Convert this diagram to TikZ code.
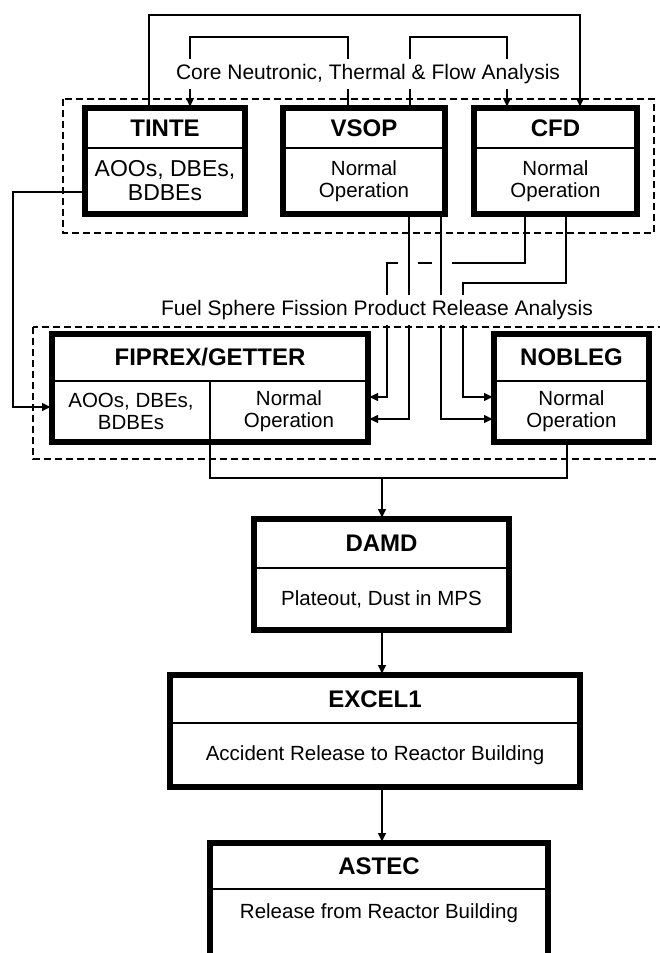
\documentclass[tikz,border=0pt]{standalone}
\usepackage{fontspec}
\setmainfont{Liberation Sans}
\usetikzlibrary{arrows.meta}

\tikzset{
  hd/.style={draw, line width=1.6pt, inner sep=0pt, outer sep=0pt,
    font=\bfseries\fontsize{24}{26}\selectfont},
  bd/.style={draw, line width=1.6pt, inner sep=0pt, outer sep=0pt, align=center,
    font=\fontsize{20.5}{22}\selectfont},
  frame/.style={line width=5.5pt},
  conn/.style={line width=2.2pt},
  link/.style={conn, -{Latex[length=10pt,width=9pt]}},
  grp/.style={line width=1.4pt, dash pattern=on 7pt off 4pt},
  ttl/.style={fill=white, inner xsep=3pt, inner ysep=5pt,
    font=\fontsize{21}{24}\selectfont}
}

\begin{document}
\begin{tikzpicture}[x=1pt,y=-1pt]
  \useasboundingbox (0,0) rectangle (660,953);
  \clip (0,0) rectangle (660,953);
  \draw[grp] (63,99) rectangle (654,233);
  \draw[grp] (33,327) rectangle (690,459);

  \node[hd, minimum width=160pt, minimum height=40pt] (tinte) at (165,128) {TINTE};
  \node[bd, minimum width=160pt, minimum height=66pt, font=\fontsize{23}{24}\selectfont] (tinteb) at (165,181) {AOOs, DBEs,\\BDBEs};
  \node[hd, minimum width=162pt, minimum height=40pt] (vsop) at (364,128) {VSOP};
  \node[bd, minimum width=162pt, minimum height=66pt] (vsopb) at (364,181) {Normal\\Operation};
  \node[hd, minimum width=163pt, minimum height=40pt] (cfd) at (555.5,128) {CFD};
  \node[bd, minimum width=163pt, minimum height=66pt] (cfdb) at (555.5,181) {Normal\\Operation};

  \node[hd, minimum width=316pt, minimum height=47pt] (fiprex) at (210,357.5) {FIPREX/GETTER};
  \node[bd, minimum width=158pt, minimum height=61pt] (fiprexa) at (131,411.5) {AOOs, DBEs,\\BDBEs};
  \node[bd, minimum width=158pt, minimum height=61pt] (fiprexb) at (289,411.5) {Normal\\Operation};
  \node[hd, minimum width=155pt, minimum height=47pt] (noble) at (571.5,357.5) {NOBLEG};
  \node[bd, minimum width=155pt, minimum height=61pt] (nobleb) at (571.5,411.5) {Normal\\Operation};

  \node[hd, minimum width=255pt, minimum height=49pt] (damd) at (381.5,543.5) {DAMD};
  \node[bd, minimum width=255pt, minimum height=62pt] (damdb) at (381.5,599) {Plateout, Dust in MPS};
  \node[hd, minimum width=410pt, minimum height=48pt] (excel) at (375,699) {EXCEL1};
  \node[bd, minimum width=410pt, minimum height=64pt] (excelb) at (375,755) {Accident Release to Reactor Building};
  \node[hd, minimum width=338pt, minimum height=46pt] (astec) at (379,866) {ASTEC};
  \node[bd, draw=none, minimum width=338pt, minimum height=48pt] (astecb) at (379,913) {Release from Reactor Building};

  \draw[frame] (tinte.north west) rectangle (tinteb.south east);
  \draw[frame] (vsop.north west) rectangle (vsopb.south east);
  \draw[frame] (cfd.north west) rectangle (cfdb.south east);
  \draw[frame] (fiprex.north west) rectangle (fiprexb.south east);
  \draw[frame] (noble.north west) rectangle (nobleb.south east);
  \draw[frame] (damd.north west) rectangle (damdb.south east);
  \draw[frame] (excel.north west) rectangle (excelb.south east);
  \draw[frame] (astec.north west) rectangle ([yshift=-40pt]astecb.south east);

  \draw[link] (149,0 |- tinte.north) |- (580,15) -- (580,0 |- cfd.north);
  \draw[link] (348,0 |- vsop.north) |- (190,37) -- (190,0 |- tinte.north);
  \draw[link] (410,0 |- vsop.north) |- (507,37) -- (507,0 |- cfd.north);
  \draw[link] (tinteb.west |- 0,192) -| (13,407) -- (fiprexa.west |- 0,407);
  \draw[link] (409,0 |- vsopb.south) |- (fiprexb.east |- 0,419);
  \draw[link] (441,0 |- vsopb.south) |- (nobleb.west |- 0,419);
  \draw[conn] (525,0 |- cfdb.south) |- (452,263);
  \draw[conn] (432,263) -- (418,263);
  \draw[link] (398,263) -| (387,397) -- (fiprexb.east |- 0,397);
  \draw[link] (566,0 |- cfdb.south) |- (463,283) |- (nobleb.west |- 0,397);
  \coordinate (mrg) at (382,478);
  \draw[conn] (fiprexb.south west) |- (mrg) -| (567,0 |- nobleb.south);
  \draw[link] (mrg) -- (mrg |- damd.north);
  \draw[link] (mrg |- damdb.south) -- (mrg |- excel.north);
  \draw[link] (mrg |- excelb.south) -- (mrg |- astec.north);

  \node[ttl] (core) at (368,74) {Core Neutronic, Thermal \& Flow Analysis};
  \node[ttl] (fuel) at (377,310) {Fuel Sphere Fission Product Release Analysis};
\end{tikzpicture}
\end{document}
